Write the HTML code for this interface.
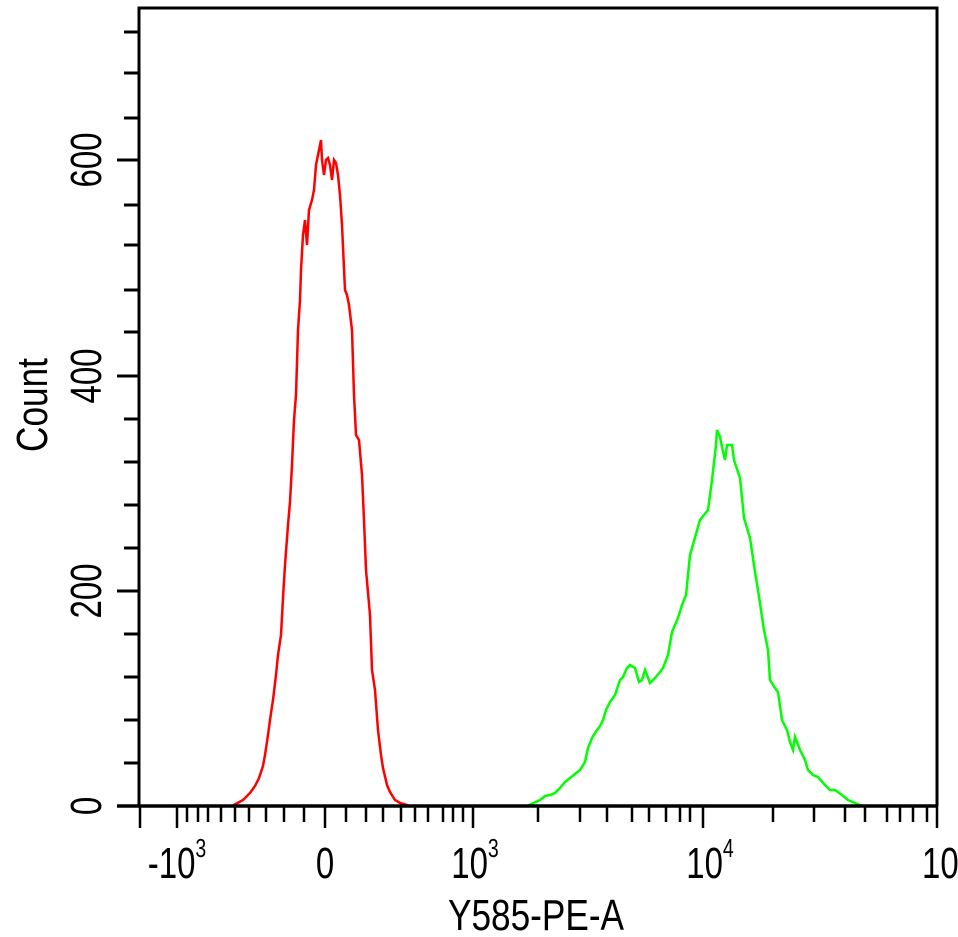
<!DOCTYPE html>
<html><head><style>html,body{margin:0;padding:0;background:#fff}svg{display:block}</style></head>
<body>
<svg width="958" height="937" viewBox="0 0 958 937" xmlns="http://www.w3.org/2000/svg">
<rect width="958" height="937" fill="#fff"/>
<polyline fill="none" stroke="#f00" stroke-width="2.5" points="232,806 243,800 250,793 255,786 259,778 263,766 265,755 268,735 271,713 273,700 276,675 278,655 281,635 283,598 285,565 288,525 290,502 292,465 294,420 296,395 298,330 300,300 301,270 303,235 305,220 307,245 309,210 312,200 314,190 316,165 318,155 319,150 321,140 322,160 324,175 326,160 328,158 330,165 332,180 334,160 336,163 338,175 340,195 342,225 345,290 347,295 349,305 352,330 354,395 356,435 359,440 362,475 364,520 366,570 370,615 372,670 375,690 378,730 381,755 383,768 387,785 390,792 395,800 400,803 410,806"/>
<polyline fill="none" stroke="#0f0" stroke-width="2.5" points="527,806 540,800 545,796 550,795 555,793 560,788 565,782 570,778 580,770 585,762 588,748 592,738 595,733 600,726 603,720 606,710 610,702 615,695 620,680 623,677 627,668 630,665 635,668 639,682 642,680 645,670 650,683 655,678 660,672 663,668 668,655 672,632 678,618 682,605 686,595 690,555 700,520 708,510 712,480 716,445 717,430 720,437 722,447 725,460 727,445 732,445 734,460 740,478 744,518 750,538 755,572 758,590 764,630 768,650 770,680 775,688 778,692 782,720 787,730 790,742 793,750 795,737 800,750 805,760 808,770 813,775 818,777 825,785 830,790 835,790 842,795 848,800 855,803 862,806"/>
<g stroke="#000" fill="none">
<polyline points="139,806 139,8 937,8 937,806" stroke-width="3"/>
<line x1="117" y1="806" x2="937" y2="806" stroke-width="3.5"/>
</g>
<g stroke="#000" stroke-width="3">
<line x1="117" y1="806" x2="139" y2="806"/><line x1="117" y1="591" x2="139" y2="591"/><line x1="117" y1="376" x2="139" y2="376"/><line x1="117" y1="160" x2="139" y2="160"/>
<line x1="124" y1="763" x2="139" y2="763"/><line x1="124" y1="720" x2="139" y2="720"/><line x1="124" y1="677" x2="139" y2="677"/><line x1="124" y1="634" x2="139" y2="634"/>
<line x1="124" y1="548" x2="139" y2="548"/><line x1="124" y1="505" x2="139" y2="505"/><line x1="124" y1="462" x2="139" y2="462"/><line x1="124" y1="419" x2="139" y2="419"/>
<line x1="124" y1="332" x2="139" y2="332"/><line x1="124" y1="290" x2="139" y2="290"/><line x1="124" y1="245" x2="139" y2="245"/><line x1="124" y1="205" x2="139" y2="205"/>
<line x1="124" y1="118" x2="139" y2="118"/><line x1="124" y1="73" x2="139" y2="73"/><line x1="124" y1="32" x2="139" y2="32"/>
</g>
<g stroke="#000" stroke-width="2.5">
<line x1="140" y1="806" x2="140" y2="828"/><line x1="177" y1="806" x2="177" y2="828"/><line x1="325" y1="806" x2="325" y2="828"/><line x1="473" y1="806" x2="473" y2="828"/><line x1="703" y1="806" x2="703" y2="828"/><line x1="937" y1="806" x2="937" y2="828"/>
<g>
<line x1="187" y1="806" x2="187" y2="822"/><line x1="198" y1="806" x2="198" y2="822"/><line x1="208" y1="806" x2="208" y2="822"/><line x1="221" y1="806" x2="221" y2="822"/><line x1="235" y1="806" x2="235" y2="822"/><line x1="249" y1="806" x2="249" y2="822"/><line x1="266" y1="806" x2="266" y2="822"/><line x1="284" y1="806" x2="284" y2="822"/><line x1="304" y1="806" x2="304" y2="822"/>
<line x1="346" y1="806" x2="346" y2="822"/><line x1="366" y1="806" x2="366" y2="822"/><line x1="383" y1="806" x2="383" y2="822"/><line x1="401" y1="806" x2="401" y2="822"/><line x1="415" y1="806" x2="415" y2="822"/><line x1="428" y1="806" x2="428" y2="822"/><line x1="443" y1="806" x2="443" y2="822"/><line x1="453" y1="806" x2="453" y2="822"/><line x1="463" y1="806" x2="463" y2="822"/>
<line x1="538" y1="806" x2="538" y2="822"/><line x1="580" y1="806" x2="580" y2="822"/><line x1="607" y1="806" x2="607" y2="822"/><line x1="632" y1="806" x2="632" y2="822"/><line x1="649" y1="806" x2="649" y2="822"/><line x1="666" y1="806" x2="666" y2="822"/><line x1="680" y1="806" x2="680" y2="822"/><line x1="690" y1="806" x2="690" y2="822"/>
<line x1="773" y1="806" x2="773" y2="822"/><line x1="814" y1="806" x2="814" y2="822"/><line x1="845" y1="806" x2="845" y2="822"/><line x1="865" y1="806" x2="865" y2="822"/><line x1="887" y1="806" x2="887" y2="822"/><line x1="900" y1="806" x2="900" y2="822"/><line x1="913" y1="806" x2="913" y2="822"/><line x1="927" y1="806" x2="927" y2="822"/>
</g>
</g>
<g font-family="Liberation Sans, sans-serif" fill="#000" font-size="44">
<text transform="translate(177,878) scale(0.75,1)" text-anchor="middle">-10<tspan font-size="26" dy="-21">3</tspan></text>
<text transform="translate(325,878) scale(0.75,1)" text-anchor="middle">0</text>
<text transform="translate(475,878) scale(0.75,1)" text-anchor="middle">10<tspan font-size="26" dy="-21">3</tspan></text>
<text transform="translate(710,878) scale(0.75,1)" text-anchor="middle">10<tspan font-size="26" dy="-21">4</tspan></text>
<text transform="translate(922,878) scale(0.75,1)">10</text>
<text transform="translate(536,930) scale(0.8,1)" text-anchor="middle">Y585-PE-A</text>
<text transform="translate(101,806) rotate(-90) scale(0.75,1)" text-anchor="middle">0</text>
<text transform="translate(101,591) rotate(-90) scale(0.75,1)" text-anchor="middle">200</text>
<text transform="translate(101,376) rotate(-90) scale(0.75,1)" text-anchor="middle">400</text>
<text transform="translate(101,160) rotate(-90) scale(0.75,1)" text-anchor="middle">600</text>
<text transform="translate(47,405) rotate(-90) scale(0.8,1)" text-anchor="middle">Count</text>
</g>
</svg>
</body></html>
